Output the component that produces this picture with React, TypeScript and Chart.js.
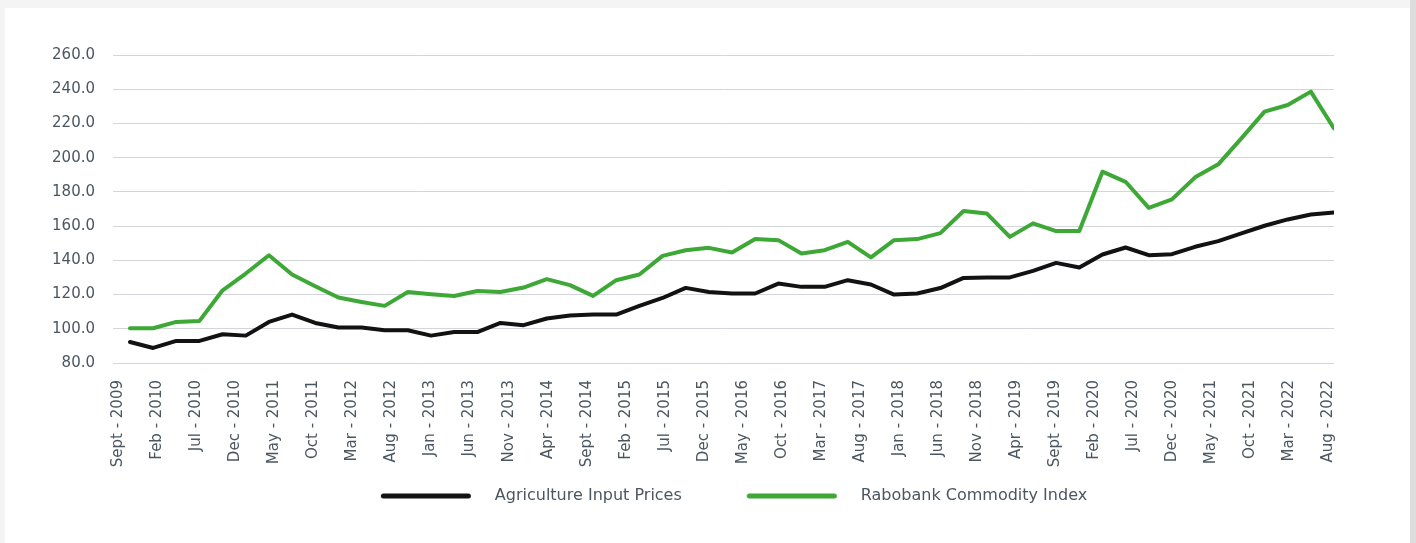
import React, { useEffect, useRef } from "react";
import { Chart, registerables } from "chart.js";

Chart.register(...registerables);

// Quarterly observations (Q3 2009 – Q3 2022)
const quarters: string[] = [
  "Q3 2009", "Q4 2009",
  "Q1 2010", "Q2 2010", "Q3 2010", "Q4 2010",
  "Q1 2011", "Q2 2011", "Q3 2011", "Q4 2011",
  "Q1 2012", "Q2 2012", "Q3 2012", "Q4 2012",
  "Q1 2013", "Q2 2013", "Q3 2013", "Q4 2013",
  "Q1 2014", "Q2 2014", "Q3 2014", "Q4 2014",
  "Q1 2015", "Q2 2015", "Q3 2015", "Q4 2015",
  "Q1 2016", "Q2 2016", "Q3 2016", "Q4 2016",
  "Q1 2017", "Q2 2017", "Q3 2017", "Q4 2017",
  "Q1 2018", "Q2 2018", "Q3 2018", "Q4 2018",
  "Q1 2019", "Q2 2019", "Q3 2019", "Q4 2019",
  "Q1 2020", "Q2 2020", "Q3 2020", "Q4 2020",
  "Q1 2021", "Q2 2021", "Q3 2021", "Q4 2021",
  "Q1 2022", "Q2 2022", "Q3 2022",
];

const agricultureInputPrices: number[] = [
  92.3, 88.8, 92.9, 92.9, 96.8, 96.0, 104.0, 108.3, 103.4, 100.7,
  100.7, 99.1, 99.1, 96.0, 98.1, 98.1, 103.4, 102.1, 106.0, 107.7,
  108.3, 108.3, 113.4, 118.0, 123.9, 121.5, 120.6, 120.6, 126.4, 124.5,
  124.5, 128.4, 125.9, 120.0, 120.6, 123.8, 129.7, 130.0, 130.0, 133.8,
  138.5, 135.8, 143.4, 147.5, 143.0, 143.6, 147.9, 151.2, 155.7, 160.2,
  163.9, 166.8, 168.0,
];

const rabobankCommodityIndex: number[] = [
  100.3, 100.3, 104.0, 104.6, 122.5, 132.3, 143.0, 131.7, 124.9, 118.3,
  115.7, 113.4, 121.5, 120.2, 119.2, 122.1, 121.5, 124.1, 129.0, 125.5,
  119.2, 128.4, 131.7, 142.6, 145.9, 147.3, 144.6, 152.5, 151.8, 144.0,
  145.9, 150.8, 141.7, 151.8, 152.4, 155.9, 168.8, 167.4, 153.7, 161.6,
  157.1, 157.1, 191.8, 185.9, 170.7, 175.6, 188.5, 196.1, 211.3, 226.9,
  230.8, 238.6, 217.1,
];

// Axis labels, one every 5 months from Sept 2009
const monthTickLabels: string[] = [
  "Sept - 2009", "Feb - 2010", "Jul - 2010", "Dec - 2010", "May - 2011",
  "Oct - 2011", "Mar - 2012", "Aug - 2012", "Jan - 2013", "Jun - 2013",
  "Nov - 2013", "Apr - 2014", "Sept - 2014", "Feb - 2015", "Jul - 2015",
  "Dec - 2015", "May - 2016", "Oct - 2016", "Mar - 2017", "Aug - 2017",
  "Jan - 2018", "Jun - 2018", "Nov - 2018", "Apr - 2019", "Sept - 2019",
  "Feb - 2020", "Jul - 2020", "Dec - 2020", "May - 2021", "Oct - 2021",
  "Mar - 2022", "Aug - 2022",
];
const monthsPerLabel = 5;

const seriesNames: string[] = ["Agriculture Input Prices", "Rabobank Commodity Index"];
const seriesColors: string[] = ["#121212", "#3da836"];

const FONT = "'DejaVu Sans', sans-serif";
const TEXT = "#4b5661";

function legendImage(color: string): HTMLCanvasElement {
  const c = document.createElement("canvas");
  c.width = 154;
  c.height = 8;
  const g = c.getContext("2d")!;
  g.strokeStyle = color;
  g.lineWidth = 5;
  g.lineCap = "round";
  g.beginPath();
  g.moveTo(48 + 2.5, 4);
  g.lineTo(48 + 87.5, 4);
  g.stroke();
  return c;
}

export default function App() {
  const ref = useRef<HTMLCanvasElement | null>(null);

  useEffect(() => {
    if (!ref.current) return;
    const images = seriesColors.map(legendImage);
    const chart = new Chart(ref.current, {
      type: "line",
      data: {
        datasets: [agricultureInputPrices, rabobankCommodityIndex].map((vals, i) => ({
          label: seriesNames[i],
          data: vals.map((v, k) => ({ x: k, y: v, q: quarters[k] })),
          borderColor: seriesColors[i],
          backgroundColor: seriesColors[i],
          borderWidth: 4,
          pointRadius: 0,
          tension: 0,
          borderJoinStyle: "round" as const,
          borderCapStyle: "round" as const,
          xAxisID: "q",
          yAxisID: "y",
        })),
      },
      options: {
        animation: false,
        responsive: false,
        devicePixelRatio: 1,
        layout: { padding: { top: 47, bottom: 29, left: 0, right: 0 } },
        scales: {
          q: {
            type: "linear",
            display: false,
            min: -0.734,
            max: 52,
          },
          m: {
            type: "linear",
            position: "bottom",
            min: -0.68,
            max: 155.73,
            grid: { display: false },
            border: { display: false },
            ticks: {
              stepSize: monthsPerLabel,
              includeBounds: false,
              autoSkip: false,
              minRotation: 90,
              maxRotation: 90,
              padding: 9,
              color: TEXT,
              font: { family: FONT, size: 15 },
              callback: (v: any) => {
                const idx = Math.round(Number(v) / monthsPerLabel);
                return monthTickLabels[idx] ?? "";
              },
            },
            afterFit: (s: any) => {
              s.height = 108;
            },
          },
          y: {
            type: "linear",
            position: "left",
            min: 80,
            max: 260,
            grid: { color: "#d2d5d9", lineWidth: 1, drawTicks: false },
            border: { display: false },
            ticks: {
              stepSize: 20,
              padding: 18,
              color: TEXT,
              font: { family: FONT, size: 15 },
              callback: (v: any) => Number(v).toFixed(1),
            },
            afterFit: (s: any) => {
              s.width = 108;
            },
          },
          yR: {
            type: "linear",
            position: "right",
            display: true,
            grid: { display: false },
            border: { display: false },
            ticks: { display: false },
            afterFit: (s: any) => {
              s.width = 81;
            },
          },
        },
        plugins: {
          tooltip: { enabled: false },
          legend: {
            position: "bottom",
            align: "center",
            labels: {
              usePointStyle: true,
              pointStyleWidth: 154,
              padding: 17,
              color: TEXT,
              font: { family: FONT, size: 16 },
              generateLabels: (ch: any) => {
                const items = Chart.defaults.plugins.legend.labels.generateLabels(ch);
                return items.map((it: any, i: number) => ({ ...it, pointStyle: images[i] }));
              },
            },
          },
        },
      },
    } as any);
    return () => chart.destroy();
  }, []);

  return (
    <div style={{ position: "fixed", inset: 0, background: "#f4f4f4", overflow: "hidden" }}>
      <div
        style={{
          position: "absolute",
          left: 1410,
          top: 0,
          width: 6,
          height: 543,
          background: "#dddddd",
        }}
      />
      <div
        style={{
          position: "absolute",
          left: 5,
          top: 8,
          width: 1405,
          height: 560,
          background: "#ffffff",
        }}
      />
      <canvas
        ref={ref}
        width={1410}
        height={535}
        style={{ position: "absolute", left: 5, top: 8, width: 1410, height: 535, display: "block" }}
      />
    </div>
  );
}
